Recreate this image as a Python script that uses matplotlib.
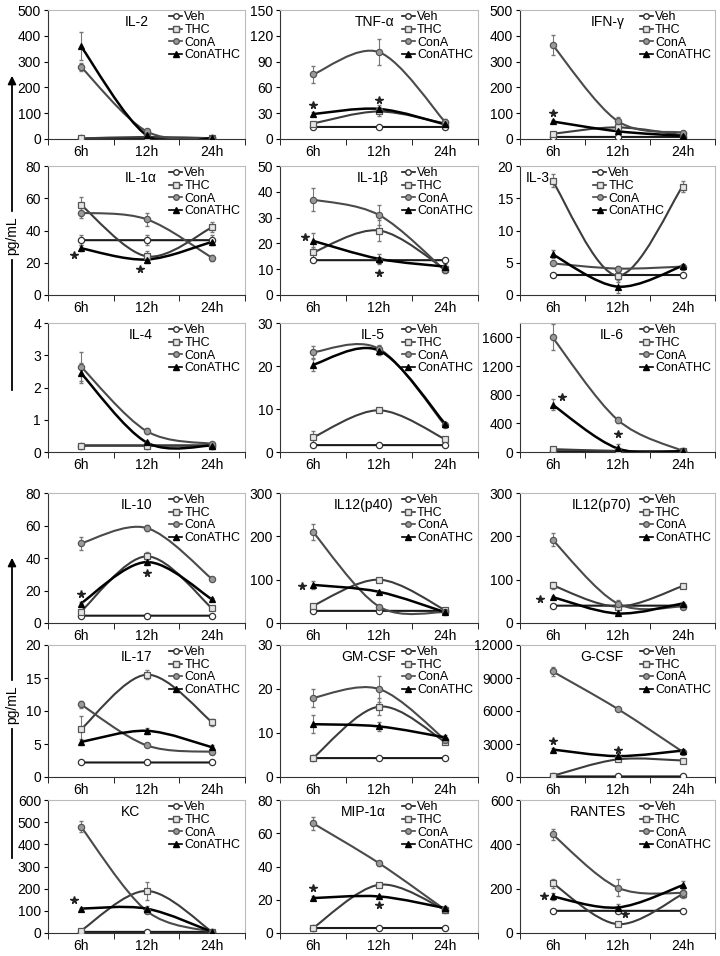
import matplotlib
matplotlib.use("Agg")
import matplotlib.pyplot as plt
from matplotlib.path import Path
from matplotlib.patches import PathPatch, FancyArrowPatch
from matplotlib.lines import Line2D

plt.rcParams['font.family'] = ['Liberation Sans', 'DejaVu Sans']

hours = ['6h', '12h', '24h']
groups = ['Veh', 'THC', 'ConA', 'ConATHC']

# values per panel: [Veh, THC, ConA, ConATHC]
il2 = [[2, 2, 2], [2, 8, 3], [280, 30, 3], [360, 15, 3]]
il2_err = [[0, 0, 0], [0, 0, 0], [15, 5, 0], [55, 5, 0]]
tnf = [[14, 14, 14], [18, 32, 18], [75, 101, 20], [29, 35, 17]]
tnf_err = [[0, 0, 0], [2, 5, 2], [10, 15, 3], [2, 5, 2]]
ifn = [[8, 8, 8], [20, 45, 15], [365, 70, 25], [68, 30, 12]]
ifn_err = [[0, 0, 0], [3, 5, 3], [40, 15, 5], [5, 5, 2]]
il1a = [[34, 34, 34], [56, 24, 42], [51, 47, 23], [29, 22, 33]]
il1a_err = [[3, 3, 3], [5, 3, 3], [3, 4, 2], [2, 2, 2]]
il1b = [[13.5, 13.5, 13.5], [16.5, 25, 10], [37, 31, 9.5], [21, 14, 11]]
il1b_err = [[0, 0, 1], [2, 4, 1], [4.5, 4, 1], [3, 2, 1]]
il3 = [[3.1, 3.1, 3.1], [17.7, 3.0, 16.8], [4.9, 4.1, 4.4], [6.3, 1.3, 4.5]]
il3_err = [[0, 0, 0], [1, 1, 0.8], [0, 0.4, 0.3], [0.6, 1, 0.3]]
il4 = [[0.2, 0.2, 0.2], [0.2, 0.2, 0.2], [2.65, 0.65, 0.25], [2.45, 0.3, 0.2]]
il4_err = [[0, 0, 0], [0, 0, 0], [0.45, 0.1, 0.05], [0.3, 0.05, 0.05]]
il5 = [[1.6, 1.6, 1.6], [3.4, 9.7, 3.0], [23.2, 24.0, 6.2], [20.3, 23.6, 6.6]]
il5_err = [[0, 0, 0], [1.5, 0.3, 0.3], [1.5, 1, 0.3], [1.5, 1, 0.3]]
il6 = [[10, 10, 10], [40, 15, 10], [1600, 450, 15], [660, 50, 10]]
il6_err = [[0, 0, 0], [10, 5, 0], [180, 40, 5], [80, 60, 0]]

il10 = [[4.5, 4.5, 4.5], [7, 41, 9], [49, 58.5, 27], [12, 37.5, 14.5]]
il10_err = [[0, 0, 0], [1, 3, 1], [4, 2, 1], [1, 2, 1]]
p40 = [[28, 28, 28], [40, 100, 30], [210, 38, 25], [88, 72, 25]]
p40_err = [[0, 0, 0], [3, 3, 2], [18, 3, 2], [10, 3, 2]]
p70 = [[40, 40, 40], [87, 38, 85], [192, 45, 38], [60, 22, 45]]
p70_err = [[0, 0, 0], [8, 5, 3], [15, 8, 5], [3, 3, 3]]
il17 = [[2.2, 2.2, 2.2], [7.2, 15.5, 8.3], [11, 4.8, 3.8], [5.3, 7, 4.5]]
il17_err = [[0, 0, 0], [2, 0.7, 0.5], [0.5, 0.3, 0.3], [0.5, 0.5, 0.3]]
gmcsf = [[4.3, 4.3, 4.3], [4.3, 16, 8], [18, 20, 8.5], [12, 11.5, 9]]
gmcsf_err = [[0, 0, 0], [0, 2, 0.5], [2, 3, 0.5], [2, 1, 0.5]]
gcsf = [[50, 50, 50], [100, 1600, 1500], [9600, 6200, 2300], [2500, 1900, 2400]]
gcsf_err = [[0, 0, 0], [0, 100, 100], [400, 150, 100], [150, 100, 100]]
kc = [[5, 5, 5], [10, 190, 5], [480, 100, 5], [110, 110, 5]]
kc_err = [[0, 0, 0], [0, 40, 0], [25, 10, 0], [5, 10, 0]]
mip = [[3, 3, 3], [3, 29, 14], [66, 42, 14], [21, 22, 15]]
mip_err = [[0, 0, 0], [0, 1, 1], [4, 1.5, 1], [1, 1, 1]]
rantes = [[100, 100, 100], [225, 40, 175], [445, 205, 180], [165, 115, 215]]
rantes_err = [[0, 0, 0], [20, 10, 10], [25, 40, 20], [15, 15, 20]]

# significance stars (x position in categories, y value)
stars = {
    'TNF-α': [(0, 40), (1, 45)],
    'IFN-γ': [(0, 100)],
    'IL-1α': [(-0.1, 25), (0.9, 16)],
    'IL-1β': [(-0.12, 22.5), (1, 8.5)],
    'IL-6': [(0.14, 770), (1, 245)],
    'IL-10': [(0, 18), (1, 31)],
    'IL12(p40)': [(-0.17, 85)],
    'IL12(p70)': [(-0.2, 55)],
    'G-CSF': [(0, 3300), (1, 2500)],
    'KC': [(-0.1, 150)],
    'MIP-1α': [(0, 27), (1, 17)],
    'RANTES': [(-0.13, 165), (1.12, 85)],
}

panels = [
    ('IL-2', il2, il2_err, 500, 100),
    ('TNF-α', tnf, tnf_err, 150, 30),
    ('IFN-γ', ifn, ifn_err, 500, 100),
    ('IL-1α', il1a, il1a_err, 80, 20),
    ('IL-1β', il1b, il1b_err, 50, 10),
    ('IL-3', il3, il3_err, 20, 5),
    ('IL-4', il4, il4_err, 4, 1),
    ('IL-5', il5, il5_err, 30, 10),
    ('IL-6', il6, il6_err, 1800, 400),
    ('IL-10', il10, il10_err, 80, 20),
    ('IL12(p40)', p40, p40_err, 300, 100),
    ('IL12(p70)', p70, p70_err, 300, 100),
    ('IL-17', il17, il17_err, 20, 5),
    ('GM-CSF', gmcsf, gmcsf_err, 30, 10),
    ('G-CSF', gcsf, gcsf_err, 12000, 3000),
    ('KC', kc, kc_err, 600, 100),
    ('MIP-1α', mip, mip_err, 80, 20),
    ('RANTES', rantes, rantes_err, 600, 200),
]

title_x = [0.45, 0.48, 0.45, 0.47, 0.47, 0.03, 0.47, 0.47, 0.47,
           0.45, 0.42, 0.42, 0.45, 0.45, 0.42, 0.42, 0.42, 0.40]

styles = [
    dict(color='#1a1a1a', lw=1.5, marker='o', mfc='white', mec='#333333'),
    dict(color='#3c3c3c', lw=1.5, marker='s', mfc='#e6e6e6', mec='#555555'),
    dict(color='#4a4a4a', lw=1.5, marker='o', mfc='#9a9a9a', mec='#555555'),
    dict(color='black', lw=1.8, marker='^', mfc='black', mec='black'),
]


def smooth(xs, ys):
    # bezier path like a spreadsheet "smoothed line"
    n = len(xs)
    verts = [(xs[0], ys[0])]
    codes = [Path.MOVETO]
    for i in range(n - 1):
        a = max(i - 1, 0)
        b = min(i + 2, n - 1)
        c1 = (xs[i] + (xs[i + 1] - xs[a]) / 6, ys[i] + (ys[i + 1] - ys[a]) / 6)
        c2 = (xs[i + 1] - (xs[b] - xs[i]) / 6, ys[i + 1] - (ys[b] - ys[i]) / 6)
        verts += [c1, c2, (xs[i + 1], ys[i + 1])]
        codes += [Path.CURVE4] * 3
    return Path(verts, codes)


fig = plt.figure(figsize=(7.2, 9.56), dpi=100)
W, H = 720, 956
col_px = [(48, 197), (280, 198), (520, 195)]
row_px = [(10, 139), (166, 295), (323, 452), (493, 623), (645, 777), (800, 933)]

x = [0, 1, 2]
for k, (name, vals, errs, ymax, ystep) in enumerate(panels):
    r, c = divmod(k, 3)
    left, width = col_px[c]
    top, bot = row_px[r]
    ax = fig.add_axes([left / W, 1 - bot / H, width / W, (bot - top) / H])
    for v, e, st in zip(vals, errs, styles):
        ax.add_patch(PathPatch(smooth(x, v), fill=False, edgecolor=st['color'],
                               lw=st['lw'], zorder=2))
        ax.errorbar(x, v, yerr=e, fmt='none', ecolor='#777777', elinewidth=0.8,
                    capsize=1.5, zorder=3)
        ax.plot(x, v, linestyle='none', marker=st['marker'], ms=4.5,
                mfc=st['mfc'], mec=st['mec'], mew=0.9, zorder=4)
    for sx, sy in stars.get(name, []):
        ax.plot(sx, sy, marker='*', ms=5.5, color='#222222', linestyle='none', zorder=5)
    ax.set_xlim(-0.5, 2.5)
    ax.set_ylim(0, ymax)
    ax.set_yticks(range(0, ymax + 1, ystep) if ymax != 1800 else range(0, 1601, 400))
    ax.set_xticks(x)
    ax.set_xticklabels(hours)
    ax.set_xticks([-0.5, 0.5, 1.5, 2.5], minor=True)
    ax.tick_params(axis='x', which='major', length=0, labelsize=10, pad=4)
    ax.tick_params(axis='x', which='minor', length=4, direction='out')
    ax.tick_params(axis='y', length=3, direction='out', labelsize=10, pad=2)
    for s in ['top', 'right']:
        ax.spines[s].set_color('#bbbbbb')
    ax.spines['left'].set_color('#333333')
    ax.spines['bottom'].set_color('#333333')
    ha = 'left' if name == 'IL-3' else 'center'
    ax.text(title_x[k], 0.91, name, transform=ax.transAxes, ha=ha, va='center',
            fontsize=10)
    handles = [Line2D([], [], color=st['color'], lw=1.2, marker=st['marker'],
                      ms=4, mfc=st['mfc'], mec=st['mec']) for st in styles]
    lx = 0.37 if name == 'IL-3' else 0.61
    ax.legend(handles, groups, loc='upper left', bbox_to_anchor=(lx, 1.0),
              frameon=False, fontsize=9, handlelength=1.0, handletextpad=0.2,
              labelspacing=0.05, borderpad=0.1, borderaxespad=0)

# pg/mL axis labels with arrows
for head, mid, tail in [(73, 236, 390), (555, 705, 858)]:
    xs = 12 / W
    fig.text(xs, 1 - mid / H, 'pg/mL', rotation=90, ha='center', va='center',
             fontsize=10)
    fig.add_artist(FancyArrowPatch((xs, 1 - (mid - 22) / H), (xs, 1 - head / H),
                                   transform=fig.transFigure, arrowstyle='-|>',
                                   mutation_scale=12, lw=1.3, color='black'))
    fig.add_artist(Line2D([xs, xs], [1 - (mid + 24) / H, 1 - tail / H],
                          transform=fig.transFigure, lw=1.3, color='black'))

fig.savefig('out.png', dpi=100)
